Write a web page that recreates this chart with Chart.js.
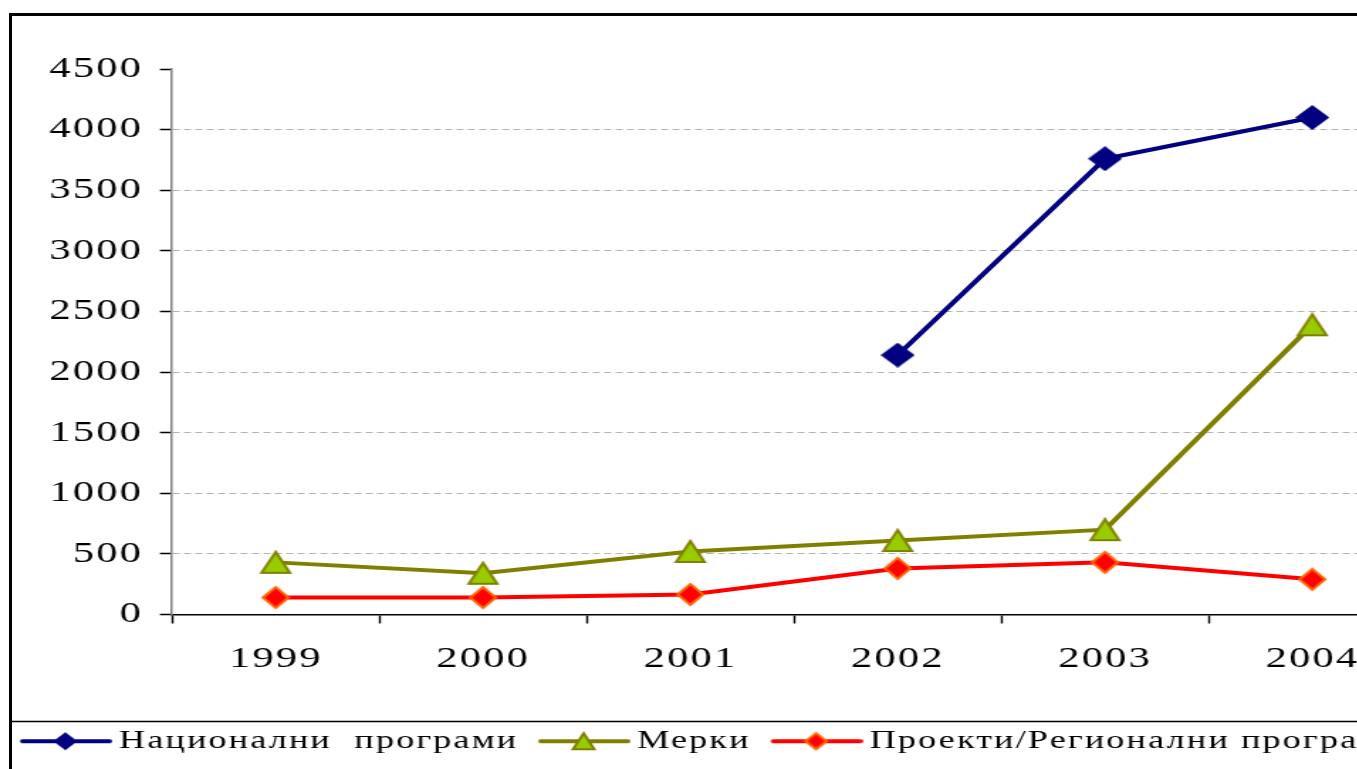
<!DOCTYPE html>
<html>
<head>
<meta charset="utf-8">
<script src="https://cdn.jsdelivr.net/npm/chart.js@4"></script>
<style>
  html, body { margin: 0; padding: 0; background: #fff; overflow: hidden; }
  #wrap { position: relative; width: 1357px; height: 769px; overflow: hidden; }
  /* the original picture is an Excel chart stretched sideways, so stretch ours too */
  #stretch { position: absolute; left: 0; top: 0; transform: scaleX(1.42); transform-origin: 0 0; }
  #frame { position: absolute; left: 9px; top: 13px; width: 2000px; height: 2000px;
           border-left: 3px solid #000; border-top: 3px solid #000; pointer-events: none; }
</style>
</head>
<body>
<div id="wrap">
  <div id="stretch">
    <canvas id="chart" width="1250" height="764" style="width:1250px;height:764px"></canvas>
  </div>
  <div id="frame"></div>
</div>
<script>
const years = ['1999', '2000', '2001', '2002', '2003', '2004'];
const nationalPrograms = [null, null, null, 2140, 3760, 4100];
const measures = [430, 340, 520, 610, 700, 2390];
const projects = [140, 140, 165, 380, 430, 290];
const seriesNames = ['Национални  програми', 'Мерки', 'Проекти/Регионални програми'];
const yMax = 4500;
const yStep = 500;

const STRETCH = 1.42;

function drawShape(g, shape, cx, cy, w, h, fill, stroke, lw) {
  g.beginPath();
  if (shape === 'diamond') {
    g.moveTo(cx - w / 2, cy);
    g.lineTo(cx, cy - h / 2);
    g.lineTo(cx + w / 2, cy);
    g.lineTo(cx, cy + h / 2);
  } else {
    g.moveTo(cx, cy - h / 2);
    g.lineTo(cx + w / 2, cy + h / 2);
    g.lineTo(cx - w / 2, cy + h / 2);
  }
  g.closePath();
  g.fillStyle = fill;
  g.fill();
  if (lw) { g.lineWidth = lw; g.strokeStyle = stroke; g.stroke(); }
}

function makeMarker(shape, w, h, fill, stroke, lw) {
  const c = document.createElement('canvas');
  c.width = w; c.height = h;
  drawShape(c.getContext('2d'), shape, w / 2, h / 2, w - lw * 2, h - lw * 2, fill, stroke, lw);
  return c;
}

function makeLegendIcon(shape, color, fill, stroke, lw) {
  const c = document.createElement('canvas');
  c.width = 73; c.height = 24;
  const g = c.getContext('2d');
  g.strokeStyle = color;
  g.lineWidth = 4;
  g.lineCap = 'round';
  g.beginPath();
  g.moveTo(10, 12);
  g.lineTo(71, 12);
  g.stroke();
  drawShape(g, shape, 40, 12, 17 - lw, 18 - lw, fill, stroke, lw);
  return c;
}

const navyMark = makeMarker('diamond', 24, 25, '#000080', '#000080', 0);
const greenMark = makeMarker('triangle', 24, 25, '#99CC00', '#808000', 2);
const redMark = makeMarker('diamond', 22, 25, '#FF0000', '#FF6600', 2);

const legendIcons = [
  makeLegendIcon('diamond', '#000080', '#000080', '#000080', 0),
  makeLegendIcon('triangle', '#808000', '#99CC00', '#808000', 2),
  makeLegendIcon('diamond', '#FF0000', '#FF0000', '#FF6600', 2)
];

const spacing = {
  id: 'spacing',
  beforeUpdate(chart) { chart.ctx.letterSpacing = '1.5px'; }
};

const legendBox = {
  id: 'legendBox',
  afterDraw(chart) {
    const c = chart.ctx;
    const y = chart.legend.top + 7;
    c.save();
    c.strokeStyle = '#000';
    c.lineWidth = 1.5;
    c.beginPath();
    c.moveTo(10 / STRETCH, y);
    c.lineTo(chart.width, y);
    c.stroke();
    c.restore();
  }
};

const tickFont = { family: 'Liberation Serif', size: 30 };

const ctx = document.getElementById('chart').getContext('2d');
const chart = new Chart(ctx, {
  type: 'line',
  data: {
    labels: years,
    datasets: [{
      label: seriesNames[0],
      data: nationalPrograms,
      borderColor: '#000080',
      backgroundColor: '#000080',
      borderWidth: 4,
      pointStyle: navyMark,
      tension: 0
    }, {
      label: seriesNames[1],
      data: measures,
      borderColor: '#808000',
      backgroundColor: '#99CC00',
      borderWidth: 4,
      pointStyle: greenMark,
      tension: 0
    }, {
      label: seriesNames[2],
      data: projects,
      borderColor: '#FF0000',
      backgroundColor: '#FF0000',
      borderWidth: 4,
      pointStyle: redMark,
      tension: 0
    }]
  },
  options: {
    responsive: false,
    animation: false,
    events: [],
    layout: { padding: { left: 0, top: 69, right: 0, bottom: 0 } },
    scales: {
      x: {
        offset: true,
        afterFit: (s) => { s.height = 100; },
        grid: { offset: true, drawOnChartArea: false, drawTicks: true, tickLength: 9, tickWidth: 1.4, tickColor: '#000', color: '#000' },
        border: { color: '#000', width: 1.5 },
        ticks: { color: '#000', padding: 18, font: tickFont }
      },
      y: {
        min: 0,
        max: yMax,
        afterFit: (s) => { s.width = 172 / STRETCH; },
        grid: {
          color: (c) => (c.tick && (c.tick.value === 0 || c.tick.value === yMax)) ? 'rgba(0,0,0,0)' : '#b3b3b3',
          tickColor: '#000',
          tickLength: 8.5,
          tickWidth: 1.5,
          lineWidth: 1
        },
        border: { color: '#808080', width: 1.5, dash: [5, 3] },
        ticks: {
          stepSize: yStep,
          color: '#000',
          padding: 12,
          font: tickFont,
          callback: (v) => String(v)
        }
      },
      // empty box on the right, keeps the plot narrower than the legend row
      spacer: {
        type: 'linear',
        position: 'right',
        afterFit: (s) => { s.width = 1250 - 1416 / STRETCH; },
        grid: { display: false, drawTicks: false },
        border: { display: false },
        ticks: { display: false }
      }
    },
    plugins: {
      legend: {
        position: 'bottom',
        align: 'start',
        labels: {
          usePointStyle: true,
          pointStyleWidth: 57,
          padding: 14,
          color: '#000',
          font: { family: 'Liberation Serif', size: 25.5 },
          generateLabels: (ch) => Chart.defaults.plugins.legend.labels.generateLabels(ch)
            .map((l, i) => ({ ...l, pointStyle: legendIcons[i] }))
        }
      },
      tooltip: { enabled: false }
    }
  },
  plugins: [spacing, legendBox]
});
</script>
</body>
</html>
